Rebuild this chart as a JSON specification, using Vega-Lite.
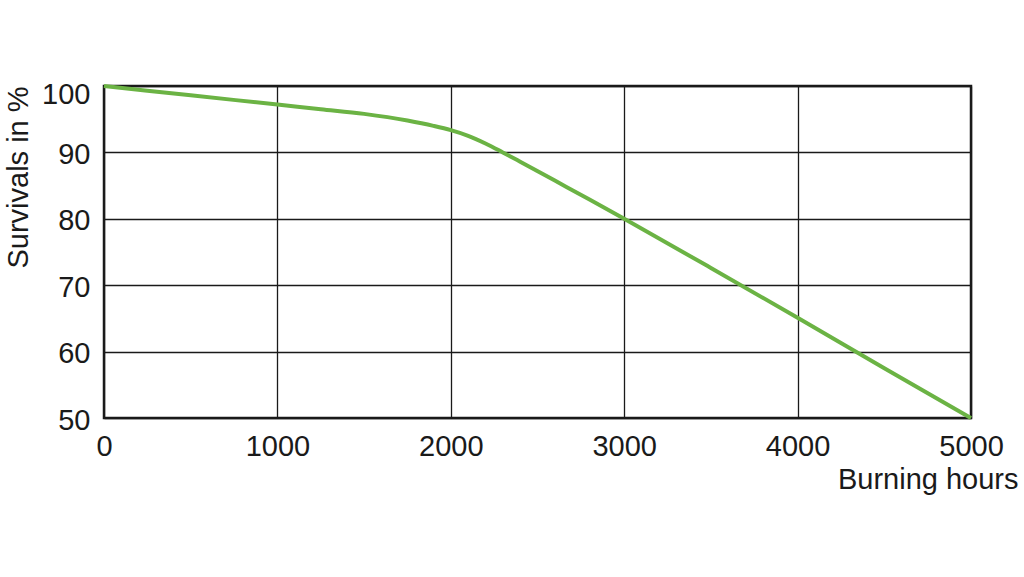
{
  "$schema": "https://vega.github.io/schema/vega-lite/v6.json",
  "autosize": {"type": "none"},
  "width": 867,
  "height": 332,
  "padding": {"left": 104, "top": 86, "right": 53, "bottom": 159},
  "background": "#ffffff",
  "config": {
    "view": {"stroke": "#1a1a1a", "strokeWidth": 2.5},
    "font": "Liberation Sans"
  },
  "data": {
    "values": [
      {"hours": 0, "survival": 100.0},
      {"hours": 500, "survival": 98.6},
      {"hours": 1000, "survival": 97.2},
      {"hours": 1250, "survival": 96.5},
      {"hours": 1500, "survival": 95.8},
      {"hours": 1750, "survival": 94.8},
      {"hours": 1900, "survival": 94.0},
      {"hours": 2000, "survival": 93.35},
      {"hours": 2100, "survival": 92.5},
      {"hours": 2200, "survival": 91.35},
      {"hours": 2300, "survival": 90.0},
      {"hours": 2400, "survival": 88.6},
      {"hours": 2600, "survival": 85.75},
      {"hours": 2800, "survival": 82.9},
      {"hours": 3000, "survival": 80.0},
      {"hours": 3500, "survival": 72.6},
      {"hours": 4000, "survival": 65.1},
      {"hours": 4500, "survival": 57.5},
      {"hours": 5000, "survival": 50.0}
    ]
  },
  "mark": {
    "type": "line",
    "color": "#6bb344",
    "strokeWidth": 4,
    "interpolate": "monotone"
  },
  "encoding": {
    "x": {
      "field": "hours",
      "type": "quantitative",
      "scale": {"domain": [0, 5000], "nice": false},
      "axis": {
        "title": "Burning hours",
        "values": [0, 1000, 2000, 3000, 4000, 5000],
        "format": "d",
        "domain": false,
        "ticks": false,
        "grid": true,
        "gridColor": "#1a1a1a",
        "gridWidth": 1.3,
        "gridOpacity": 1,
        "labelFontSize": 29,
        "labelColor": "#1a1a1a",
        "labelPadding": 14,
        "labelFlush": false,
        "titleFontSize": 29,
        "titleFontWeight": "normal",
        "titleColor": "#1a1a1a",
        "titleAlign": "right",
        "titleAnchor": null,
        "titleBaseline": "alphabetic",
        "titleX": 914,
        "titleY": 70
      }
    },
    "y": {
      "field": "survival",
      "type": "quantitative",
      "scale": {"domain": [50, 100], "nice": false},
      "axis": {
        "title": "Survivals in %",
        "values": [50, 60, 70, 80, 90, 100],
        "domain": false,
        "ticks": false,
        "grid": true,
        "gridColor": "#1a1a1a",
        "gridWidth": 1.3,
        "gridOpacity": 1,
        "labelFontSize": 29,
        "labelColor": "#1a1a1a",
        "labelPadding": 14,
        "labelFlush": false,
        "labelOffset": {"condition": {"test": "datum.value == 100", "value": 8}, "value": 2},
        "titleFontSize": 29,
        "titleFontWeight": "normal",
        "titleColor": "#1a1a1a",
        "titleAngle": -90,
        "titleAlign": "center",
        "titleAnchor": null,
        "titleBaseline": "alphabetic",
        "titleX": -77,
        "titleY": 91
      }
    }
  }
}
